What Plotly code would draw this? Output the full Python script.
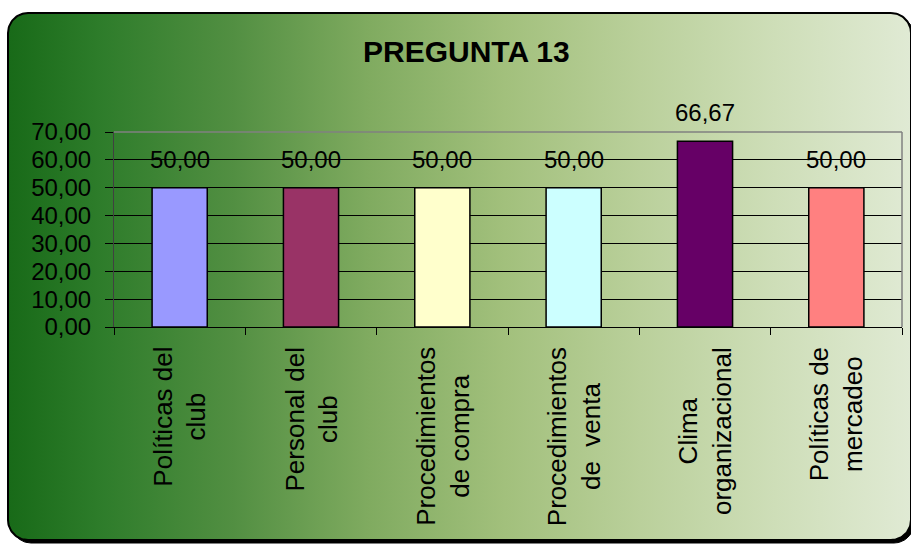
import numpy as np
import plotly.graph_objects as go

# ---- data ----
categories = ["Políticas del club", "Personal del club", "Procedimientos de compra",
              "Procedimientos de venta", "Clima organizacional", "Políticas de mercadeo"]
tick_labels = ["Políticas del<br>club", "Personal del<br>club", "Procedimientos<br>de compra",
               "Procedimientos<br>de\u00a0 venta", "Clima<br>organizacional", "Políticas de<br>mercadeo"]
values = [50.00, 50.00, 50.00, 50.00, 66.67, 50.00]
bar_colors = ["#9999FF", "#993366", "#FFFFCC", "#CCFFFF", "#660066", "#FF8080"]
title_text = "PREGUNTA 13"

W, H = 911, 545
FONT = "Arial, Liberation Sans, sans-serif"


def rounded_rect(x0, y0, x1, y1, r, n=24):
    """Closed outline of a rounded rectangle (y grows downward)."""
    xs, ys = [], []
    corners = [(x1 - r, y0 + r, -90, 0), (x1 - r, y1 - r, 0, 90),
               (x0 + r, y1 - r, 90, 180), (x0 + r, y0 + r, 180, 270)]
    for cx, cy, a0, a1 in corners:
        t = np.radians(np.linspace(a0, a1, n))
        xs.extend(cx + r * np.cos(t))
        ys.extend(cy + r * np.sin(t))
    xs.append(xs[0]); ys.append(ys[0])
    return xs, ys


fig = go.Figure()

# ---- card background (pixel-space axes x/y) ----
sx, sy = rounded_rect(11, 16, 914, 543, 20)
fig.add_trace(go.Scatter(x=sx, y=sy, mode="lines", fill="toself",
                         fillcolor="black", line=dict(color="black", width=1),
                         hoverinfo="skip", showlegend=False, xaxis="x", yaxis="y"))
bx, by = rounded_rect(8, 13, 911, 540, 20)
fig.add_trace(go.Scatter(
    x=bx, y=by, mode="lines", fill="toself",
    fillgradient=dict(type="horizontal", start=8, stop=911,
                      colorscale=[[0.0, "rgb(24,106,24)"], [0.1, "rgb(45,124,42)"],
                                  [0.25, "rgb(82,143,66)"], [0.4, "rgb(128,171,96)"],
                                  [0.55, "rgb(162,192,124)"], [0.7, "rgb(186,208,155)"],
                                  [0.85, "rgb(206,222,184)"], [1.0, "rgb(224,234,212)"]]),
    line=dict(color="black", width=2), hoverinfo="skip", showlegend=False,
    xaxis="x", yaxis="y"))

# ---- bars (x2/y2) ----
fig.add_trace(go.Bar(
    x=categories, y=values, width=0.42,
    marker=dict(color=bar_colors, line=dict(color="black", width=1.5)),
    xaxis="x2", yaxis="y2", showlegend=False, hoverinfo="x+y"))

annotations = []
# value labels
for c, v in zip(categories, values):
    annotations.append(dict(
        x=c, y=v, xref="x2", yref="y2", text=f"{v:.2f}".replace(".", ","),
        showarrow=False, yanchor="bottom", xanchor="center", yshift=13,
        font=dict(family=FONT, size=24, color="black")))
# category labels, rotated
for c, lab in zip(categories, tick_labels):
    annotations.append(dict(
        x=c, y=345, xref="x2", yref="y", text=lab, textangle=-90,
        showarrow=False, xanchor="center", yanchor="top", align="center",
        font=dict(family=FONT, size=26, color="black")))
# title
annotations.append(dict(
    x=466.5, y=51, xref="x", yref="y", text=f"<b>{title_text}</b>",
    showarrow=False, xanchor="center", yanchor="middle",
    font=dict(family=FONT, size=30, color="black")))

x0p, x1p, y0p, y1p = 114, 902, 132, 327
fig.update_layout(
    width=W, height=H, margin=dict(l=0, r=0, t=0, b=0, autoexpand=False),
    paper_bgcolor="white", plot_bgcolor="rgba(0,0,0,0)",
    separators=",.",
    xaxis=dict(domain=[0, 1], range=[0, W], visible=False, fixedrange=True,
               automargin=False),
    yaxis=dict(domain=[0, 1], range=[H, 0], visible=False, fixedrange=True,
               automargin=False),
    xaxis2=dict(domain=[x0p / W, x1p / W], anchor="y2", type="category",
                showgrid=False, showticklabels=False, tickson="boundaries",
                ticks="outside", ticklen=7, tickcolor="black", tickwidth=1,
                showline=True, linecolor="black", linewidth=1, zeroline=False,
                automargin=False),
    yaxis2=dict(domain=[1 - y1p / H, 1 - y0p / H], anchor="x2", range=[0, 70],
                tick0=0, dtick=10, tickformat=".2f",
                showgrid=True, gridcolor="black", gridwidth=1, zeroline=False,
                ticks="outside", ticklen=8, tickcolor="black", tickwidth=1,
                ticklabelstandoff=9, automargin=False,
                showline=True, linecolor="#404040", linewidth=1,
                tickfont=dict(family=FONT, size=24, color="black")),
    shapes=[
        dict(type="line", xref="x2 domain", yref="y2 domain", x0=0, x1=1, y0=1, y1=1,
             line=dict(color="#808080", width=1.5), layer="above"),
        dict(type="line", xref="x2 domain", yref="y2 domain", x0=1, x1=1, y0=0, y1=1,
             line=dict(color="#808080", width=1.5), layer="above"),
    ],
    annotations=annotations,
)

fig.write_html("out.html")
